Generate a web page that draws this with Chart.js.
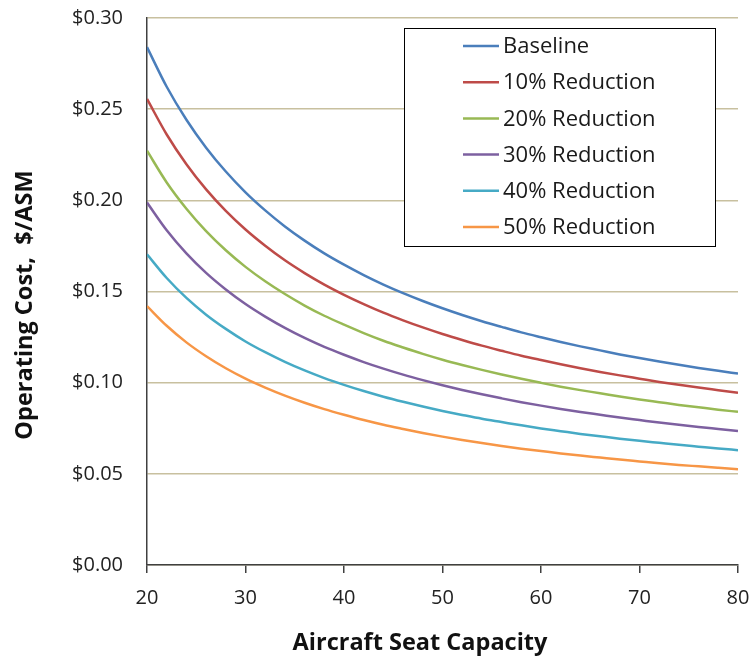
<!DOCTYPE html>
<html>
<head>
<meta charset="utf-8">
<script src="https://cdn.jsdelivr.net/npm/chart.js@4/dist/chart.umd.min.js"></script>
<style>
  body { margin: 0; background: #fff; }
  #wrap { width: 752px; height: 658px; position: relative; }
</style>
</head>
<body>
<div id="wrap"><canvas id="costChart" width="752" height="658"></canvas></div>
<script>
// Seat capacity (x) and operating cost per ASM
const seats = [20, 22, 24, 26, 28, 30, 32, 34, 36, 38, 40, 42, 44, 46, 48, 50,
               52, 54, 56, 58, 60, 62, 64, 66, 68, 70, 72, 74, 76, 78, 80];

const baseline = [0.2840, 0.2623, 0.2442, 0.2289, 0.2158, 0.2044, 0.1945, 0.1857, 0.1779, 0.1709, 0.1647,
                  0.1590, 0.1538, 0.1491, 0.1448, 0.1408, 0.1371, 0.1337, 0.1306, 0.1276, 0.1249,
                  0.1223, 0.1199, 0.1177, 0.1155, 0.1135, 0.1116, 0.1098, 0.1081, 0.1065, 0.1050];
const red10 = [0.2556, 0.2361, 0.2198, 0.2060, 0.1942, 0.1840, 0.1751, 0.1671, 0.1601, 0.1538, 0.1482,
               0.1431, 0.1384, 0.1342, 0.1303, 0.1267, 0.1234, 0.1203, 0.1175, 0.1148, 0.1124,
               0.1101, 0.1079, 0.1059, 0.1040, 0.1022, 0.1004, 0.0988, 0.0973, 0.0959, 0.0945];
const red20 = [0.2272, 0.2098, 0.1954, 0.1831, 0.1726, 0.1635, 0.1556, 0.1486, 0.1423, 0.1367, 0.1318,
               0.1272, 0.1230, 0.1193, 0.1158, 0.1126, 0.1097, 0.1070, 0.1045, 0.1021, 0.0999,
               0.0978, 0.0959, 0.0942, 0.0924, 0.0908, 0.0893, 0.0878, 0.0865, 0.0852, 0.0840];
const red30 = [0.1988, 0.1836, 0.1709, 0.1602, 0.1511, 0.1431, 0.1362, 0.1300, 0.1245, 0.1196, 0.1153,
               0.1113, 0.1077, 0.1044, 0.1014, 0.0986, 0.0960, 0.0936, 0.0914, 0.0893, 0.0874,
               0.0856, 0.0839, 0.0824, 0.0809, 0.0795, 0.0781, 0.0769, 0.0757, 0.0746, 0.0735];
const red40 = [0.1704, 0.1574, 0.1465, 0.1373, 0.1295, 0.1226, 0.1167, 0.1114, 0.1067, 0.1025, 0.0988,
               0.0954, 0.0923, 0.0895, 0.0869, 0.0845, 0.0823, 0.0802, 0.0784, 0.0766, 0.0749,
               0.0734, 0.0719, 0.0706, 0.0693, 0.0681, 0.0670, 0.0659, 0.0649, 0.0639, 0.0630];
const red50 = [0.1420, 0.1312, 0.1221, 0.1145, 0.1079, 0.1022, 0.0973, 0.0929, 0.0890, 0.0855, 0.0824,
               0.0795, 0.0769, 0.0746, 0.0724, 0.0704, 0.0686, 0.0669, 0.0653, 0.0638, 0.0625,
               0.0612, 0.0600, 0.0589, 0.0578, 0.0568, 0.0558, 0.0549, 0.0541, 0.0533, 0.0525];

const seriesNames = ['Baseline', '10% Reduction', '20% Reduction', '30% Reduction', '40% Reduction', '50% Reduction'];
const seriesValues = [baseline, red10, red20, red30, red40, red50];
const seriesColors = ['#4a7ebb', '#be4b48', '#98b954', '#7d60a0', '#46aac5', '#f79646'];

const xTitle = 'Aircraft Seat Capacity';
const yTitle = 'Operating Cost,  $/ASM';

const FONT = '"Open Sans", Lato, sans-serif';

// leyenda en recuadro + titulos de ejes colocados a mano
const boxLegend = {
    id: 'boxLegend',
    afterDraw(chart) {
        const c = chart.ctx;
        const x0 = 404, y0 = 28, w = 311, h = 218;
        c.save();
        c.fillStyle = '#fff';
        c.fillRect(x0, y0, w, h);
        c.strokeStyle = '#000';
        c.lineWidth = 1;
        c.strokeRect(x0 + 0.5, y0 + 0.5, w, h);
        c.font = '22px ' + FONT;
        c.textBaseline = 'middle';
        c.fillStyle = '#1a1a1a';
        chart.data.datasets.forEach((ds, i) => {
            const y = 46 + i * 36.2;
            c.strokeStyle = ds.borderColor;
            c.lineWidth = 2.5;
            c.beginPath();
            c.moveTo(463, y);
            c.lineTo(499, y);
            c.stroke();
            c.fillText(ds.label, 503, y + 1);
        });

        // titulos
        c.fillStyle = '#111';
        c.font = 'bold 23.5px ' + FONT;
        c.textAlign = 'center';
        c.fillText(xTitle, 420, 643);
        c.translate(25, 305);
        c.rotate(-Math.PI / 2);
        c.fillText(yTitle, 0, 0);
        c.restore();
    }
};

new Chart(document.getElementById('costChart'), {
    type: 'line',
    data: {
        datasets: seriesNames.map((name, i) => ({
            label: name,
            data: seats.map((s, j) => ({ x: s, y: seriesValues[i][j] })),
            borderColor: seriesColors[i],
            backgroundColor: seriesColors[i],
            borderWidth: 2.5,
            pointRadius: 0,
            cubicInterpolationMode: 'monotone',
            fill: false
        }))
    },
    options: {
        responsive: false,
        animation: false,
        layout: { padding: { top: 18, right: 14, left: 0, bottom: 0 } },
        plugins: {
            legend: { display: false },
            tooltip: { enabled: false }
        },
        scales: {
            x: {
                type: 'linear',
                min: 20,
                max: 80,
                afterFit: (s) => { s.height = 93; s.paddingLeft = 0; s.paddingRight = 0; },
                ticks: {
                    stepSize: 10,
                    padding: 13,
                    color: '#222',
                    font: { family: FONT, size: 20 }
                },
                grid: { drawOnChartArea: false, drawTicks: true, tickLength: 8, color: '#404040', lineWidth: 1.5 },
                border: { color: '#404040', width: 1.5 }
            },
            y: {
                min: 0,
                max: 0.30,
                afterFit: (s) => { s.width = 147; s.paddingTop = 0; s.paddingBottom = 0; },
                ticks: {
                    stepSize: 0.05,
                    padding: 0,
                    color: '#222',
                    font: { family: FONT, size: 20 },
                    callback: (v) => '$' + v.toFixed(2)
                },
                // marcas invisibles: separan las etiquetas del eje sin agrandar el margen superior
                grid: { drawTicks: true, tickLength: 24, tickColor: 'rgba(0,0,0,0)', color: '#c8c09f', lineWidth: 1.5 },
                border: { color: '#404040', width: 1.5 }
            }
        }
    },
    plugins: [boxLegend]
});
</script>
</body>
</html>
